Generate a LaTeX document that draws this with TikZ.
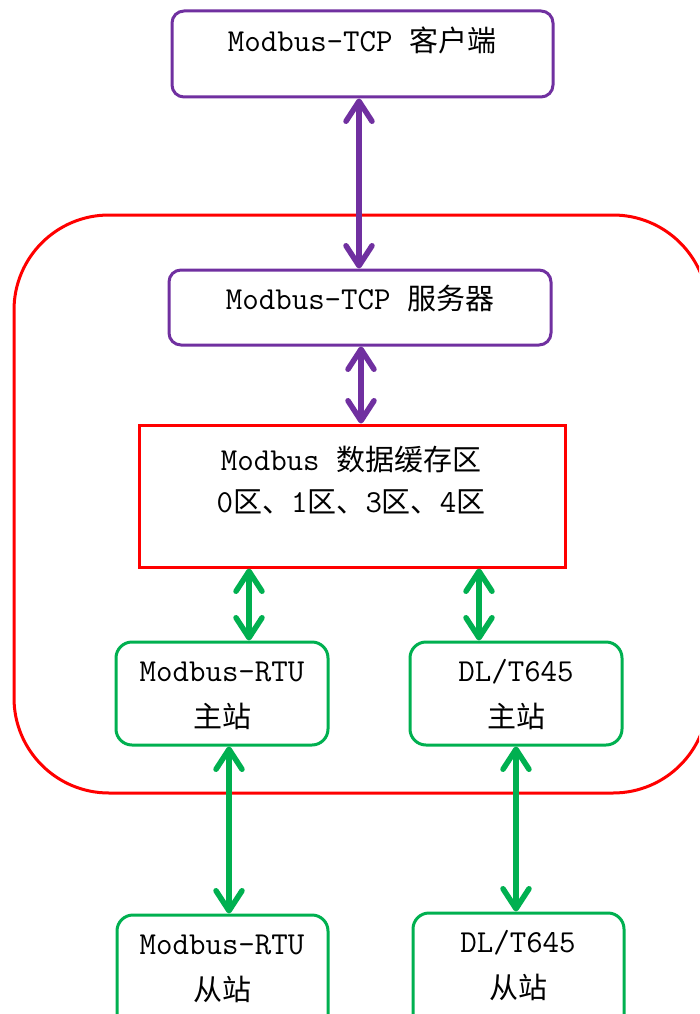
\documentclass[tikz,border=0pt]{standalone}
\usepackage{fontspec}
\usetikzlibrary{arrows.meta}
\newfontfamily\cjkfont{Noto Sans CJK SC}
\newcommand\zhtxt[1]{{\cjkfont\fontsize{29}{40}\selectfont #1}}
\definecolor{mpurple}{HTML}{7030A0}
\definecolor{mred}{HTML}{FF0000}
\definecolor{mgreen}{HTML}{00B050}
\tikzset{
  pbox/.style={draw=mpurple, line width=3pt, rounded corners=12pt, inner sep=0pt},
  gbox/.style={draw=mgreen, line width=3pt, rounded corners=16pt, inner sep=0pt},
  rbox/.style={draw=mred, line width=3pt, inner sep=0pt},
  bigbox/.style={draw=mred, line width=3pt, rounded corners=95pt},
  tipb/.tip={Straight Barb[length=20pt,width=26pt,round]},
  parrow/.style={draw=mpurple, line width=5.5pt, tipb-tipb},
  garrow/.style={draw=mgreen, line width=5.5pt, tipb-tipb},
  lbl/.style={font=\fontsize{32}{40}\selectfont\ttfamily, inner sep=0pt, anchor=center}
}
\begin{document}
\begin{tikzpicture}[x=1pt,y=-1pt]
\useasboundingbox (0,0) rectangle (699,1014);
\clip (0,0) rectangle (699,1014);
% big red container
\draw[bigbox] (14,215) rectangle (708,793);
% boxes
\node[pbox, minimum width=381pt, minimum height=86pt] (client) at (362.5,54) {};
\node[pbox, minimum width=382pt, minimum height=75pt] (server) at (360,307.5) {};
\node[rbox, minimum width=426pt, minimum height=142pt] (buf) at (352,496) {};
\node[gbox, minimum width=212pt, minimum height=103pt] (rtum) at (222,693.5) {};
\node[gbox, minimum width=212pt, minimum height=103pt] (dlm) at (516,693.5) {};
\node[gbox, minimum width=211pt, minimum height=120pt] (rtus) at (222.5,975) {};
\node[gbox, minimum width=211pt, minimum height=120pt] (dls) at (518.5,973) {};
% labels
\node[lbl] (tclient) at (362,40) {Modbus-TCP \zhtxt{客户端}};
\node[lbl] (tserver) at (360,298) {Modbus-TCP \zhtxt{服务器}};
\node[lbl] (tbuf1) at (351,460) {Modbus \zhtxt{数据缓存区}};
\node[lbl] (tbuf2) at (351,502) {0\zhtxt{区、}1\zhtxt{区、}3\zhtxt{区、}4\zhtxt{区}};
\node[lbl] (trtum1) at (222,672) {Modbus-RTU};
\node[lbl] (trtum2) at (222,716) {\zhtxt{主站}};
\node[lbl] (tdlm1) at (516,672) {DL/T645};
\node[lbl] (tdlm2) at (516,716) {\zhtxt{主站}};
\node[lbl] (trtus1) at (222,945) {Modbus-RTU};
\node[lbl] (trtus2) at (222,989) {\zhtxt{从站}};
\node[lbl] (tdls1) at (518,943) {DL/T645};
\node[lbl] (tdls2) at (518,987) {\zhtxt{从站}};
% connectors
\draw[parrow] (client.south -| 359,0) -- (server.north -| 359,0);
\draw[parrow] (server.south -| 361,0) -- (buf.north -| 361,0);
\draw[garrow] (buf.south -| 249,0) -- (rtum.north -| 249,0);
\draw[garrow] (buf.south -| 479,0) -- (dlm.north -| 479,0);
\draw[garrow] (rtum.south -| 229,0) -- (rtus.north -| 229,0);
\draw[garrow] (dlm.south -| 516,0) -- (dls.north -| 516,0);
\end{tikzpicture}
\end{document}
